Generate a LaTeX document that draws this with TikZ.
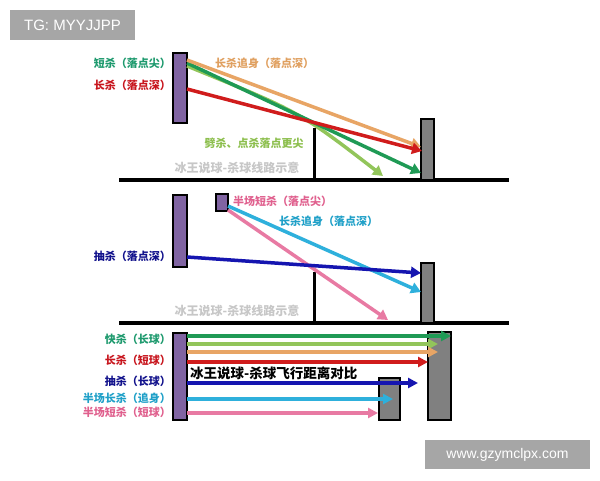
\documentclass[tikz,border=0pt]{standalone}
\usepackage{fontspec}
\setmainfont{Liberation Sans}
\newfontfamily\cjk{Noto Sans CJK SC}
\usetikzlibrary{arrows.meta}
\definecolor{cDG}{HTML}{1F9A55}
\definecolor{cLG}{HTML}{92C55A}
\definecolor{cOR}{HTML}{E8A565}
\definecolor{cRD}{HTML}{D01C1C}
\definecolor{cBL}{HTML}{1515B0}
\definecolor{cCY}{HTML}{2EB0DC}
\definecolor{cPK}{HTML}{E87AA3}
\definecolor{cPU}{HTML}{8064A2}
\definecolor{cGY}{HTML}{808080}
\definecolor{tDG}{HTML}{1E9A6E}
\definecolor{tRD}{HTML}{C8161E}
\definecolor{tOR}{HTML}{E0A060}
\definecolor{tLG}{HTML}{8DBF4E}
\definecolor{tPK}{HTML}{E0608E}
\definecolor{tCY}{HTML}{1FA0C8}
\definecolor{tBL}{HTML}{12128C}
\definecolor{tag}{HTML}{A6A6A6}
\tikzset{
  bar/.style={draw=black, line width=1.2pt, fill=cPU, inner sep=0pt},
  blockbox/.style={draw=black, line width=1.2pt, fill=cGY, inner sep=0pt},
  shot/.style={line width=3.5pt, -{Triangle[length=10pt,width=11pt]}},
  flat/.style={line width=3.2pt, -{Triangle[length=10pt,width=10pt]}},
  lab/.style={font=\cjk\bfseries\fontsize{11}{12}\selectfont, inner sep=0pt},
  wm/.style={font=\cjk\bfseries\fontsize{12}{13}\selectfont, text=black!22, inner sep=0pt},
  ground/.style={line width=3.5pt},
  netline/.style={line width=3pt},
  tagbox/.style={fill=tag, text=white, inner sep=0pt, font=\fontsize{15}{17}\selectfont}
}
\begin{document}
\begin{tikzpicture}[x=1pt,y=-1pt]
\useasboundingbox (0,0) rectangle (600,480);
\fill[white] (0,0) rectangle (600,480);
% tags
\node[tagbox, minimum width=125, minimum height=30] (tg) at (72.5,25) {TG: MYYJJPP};
\node[tagbox, minimum width=165, minimum height=29, font=\fontsize{14}{16}\selectfont] (web) at (507.5,454.5) {www.gzymclpx.com};

% ===== top panel =====
\coordinate (gl1) at (119,180); \coordinate (gr1) at (509,180);
\draw[ground] (gl1) -- (gr1);
\coordinate (nt1) at (314,128); \coordinate (nb1) at (314,180);
\draw[netline] (nt1) -- (nb1);
\node[blockbox, minimum width=13, minimum height=61] (g1) at (427.5,149.5) {};
\node[bar, minimum width=14, minimum height=70] (p1) at (180,88) {};
\node[wm] (w1) at (237,168) {冰王说球-杀球线路示意};
\node[lab, text=tDG, anchor=east] (l1a) at (171,63) {短杀（落点尖）};
\node[lab, text=tRD, anchor=east] (l1b) at (171,85) {长杀（落点深）};
\node[lab, text=tOR, anchor=west] (l1c) at (215,63) {长杀追身（落点深）};
\node[lab, text=tLG] (l1d) at (254,143) {劈杀、点杀落点更尖};
\coordinate (s1o) at (187,60); \coordinate (e1o) at (421,147);
\coordinate (s1g) at (187,63); \coordinate (e1g) at (421,173);
\coordinate (s1l) at (187,66); \coordinate (c1l) at (300,112); \coordinate (e1l) at (383,176);
\coordinate (s1r) at (187,89); \coordinate (e1r) at (422,151);
\draw[shot, cLG] (s1l) .. controls (c1l) .. (e1l);
\draw[shot, cDG] (s1g) -- (e1g);
\draw[shot, cOR] (s1o) -- (e1o);
\draw[shot, cRD] (s1r) -- (e1r);

% ===== middle panel =====
\coordinate (gl2) at (119,323); \coordinate (gr2) at (509,323);
\draw[ground] (gl2) -- (gr2);
\coordinate (nt2) at (314,272); \coordinate (nb2) at (314,323);
\draw[netline] (nt2) -- (nb2);
\node[blockbox, minimum width=13, minimum height=60] (g2) at (427.5,293) {};
\node[bar, minimum width=14, minimum height=72] (p2) at (180,231) {};
\node[bar, minimum width=12, minimum height=17] (s2) at (222,202.5) {};
\node[wm] (w2) at (237,311) {冰王说球-杀球线路示意};
\node[lab, text=tPK, anchor=west] (l2a) at (233,201) {半场短杀（落点尖）};
\node[lab, text=tCY, anchor=west] (l2b) at (279,221) {长杀追身（落点深）};
\node[lab, text=tBL, anchor=east] (l2c) at (171,256) {抽杀（落点深）};
\coordinate (s2b) at (187,257); \coordinate (e2b) at (421,273);
\coordinate (s2c) at (228,206); \coordinate (e2c) at (421,292);
\coordinate (s2p) at (228,210); \coordinate (e2p) at (388,320);
\draw[shot, cPK] (s2p) -- (e2p);
\draw[shot, cCY] (s2c) -- (e2c);
\draw[shot, cBL] (s2b) -- (e2b);

% ===== bottom panel =====
\node[blockbox, minimum width=23, minimum height=88] (G3) at (439.5,376) {};
\node[blockbox, minimum width=21, minimum height=42] (g3) at (389.5,399) {};
\node[bar, minimum width=14, minimum height=87] (p3) at (180,376.5) {};
\node[lab, text=tDG, anchor=east] (l3a) at (171,339) {快杀（长球）};
\node[lab, text=tRD, anchor=east] (l3b) at (171,360) {长杀（短球）};
\node[lab, text=tBL, anchor=east] (l3c) at (171,381) {抽杀（长球）};
\node[lab, text=tCY, anchor=east] (l3d) at (171,398) {半场长杀（追身）};
\node[lab, text=tPK, anchor=east] (l3e) at (171,412) {半场短杀（短球）};
\node[font=\cjk\bfseries\fontsize{13.5}{15}\selectfont, inner sep=0pt, anchor=west] (t3) at (190,373) {冰王说球-杀球飞行距离对比};
\coordinate (s3a) at (187,336); \coordinate (e3a) at (451,336);
\coordinate (s3b) at (187,344); \coordinate (e3b) at (438,344);
\coordinate (s3c) at (187,352); \coordinate (e3c) at (438,352);
\coordinate (s3d) at (187,362); \coordinate (e3d) at (428,362);
\coordinate (s3e) at (187,383); \coordinate (e3e) at (418,383);
\coordinate (s3f) at (187,399); \coordinate (e3f) at (393,399);
\coordinate (s3g) at (187,413); \coordinate (e3g) at (378,413);
\draw[flat, cDG] (s3a) -- (e3a);
\draw[flat, cLG] (s3b) -- (e3b);
\draw[flat, cOR] (s3c) -- (e3c);
\draw[flat, cRD] (s3d) -- (e3d);
\draw[flat, cBL] (s3e) -- (e3e);
\draw[flat, cCY] (s3f) -- (e3f);
\draw[flat, cPK] (s3g) -- (e3g);
\end{tikzpicture}
\end{document}
